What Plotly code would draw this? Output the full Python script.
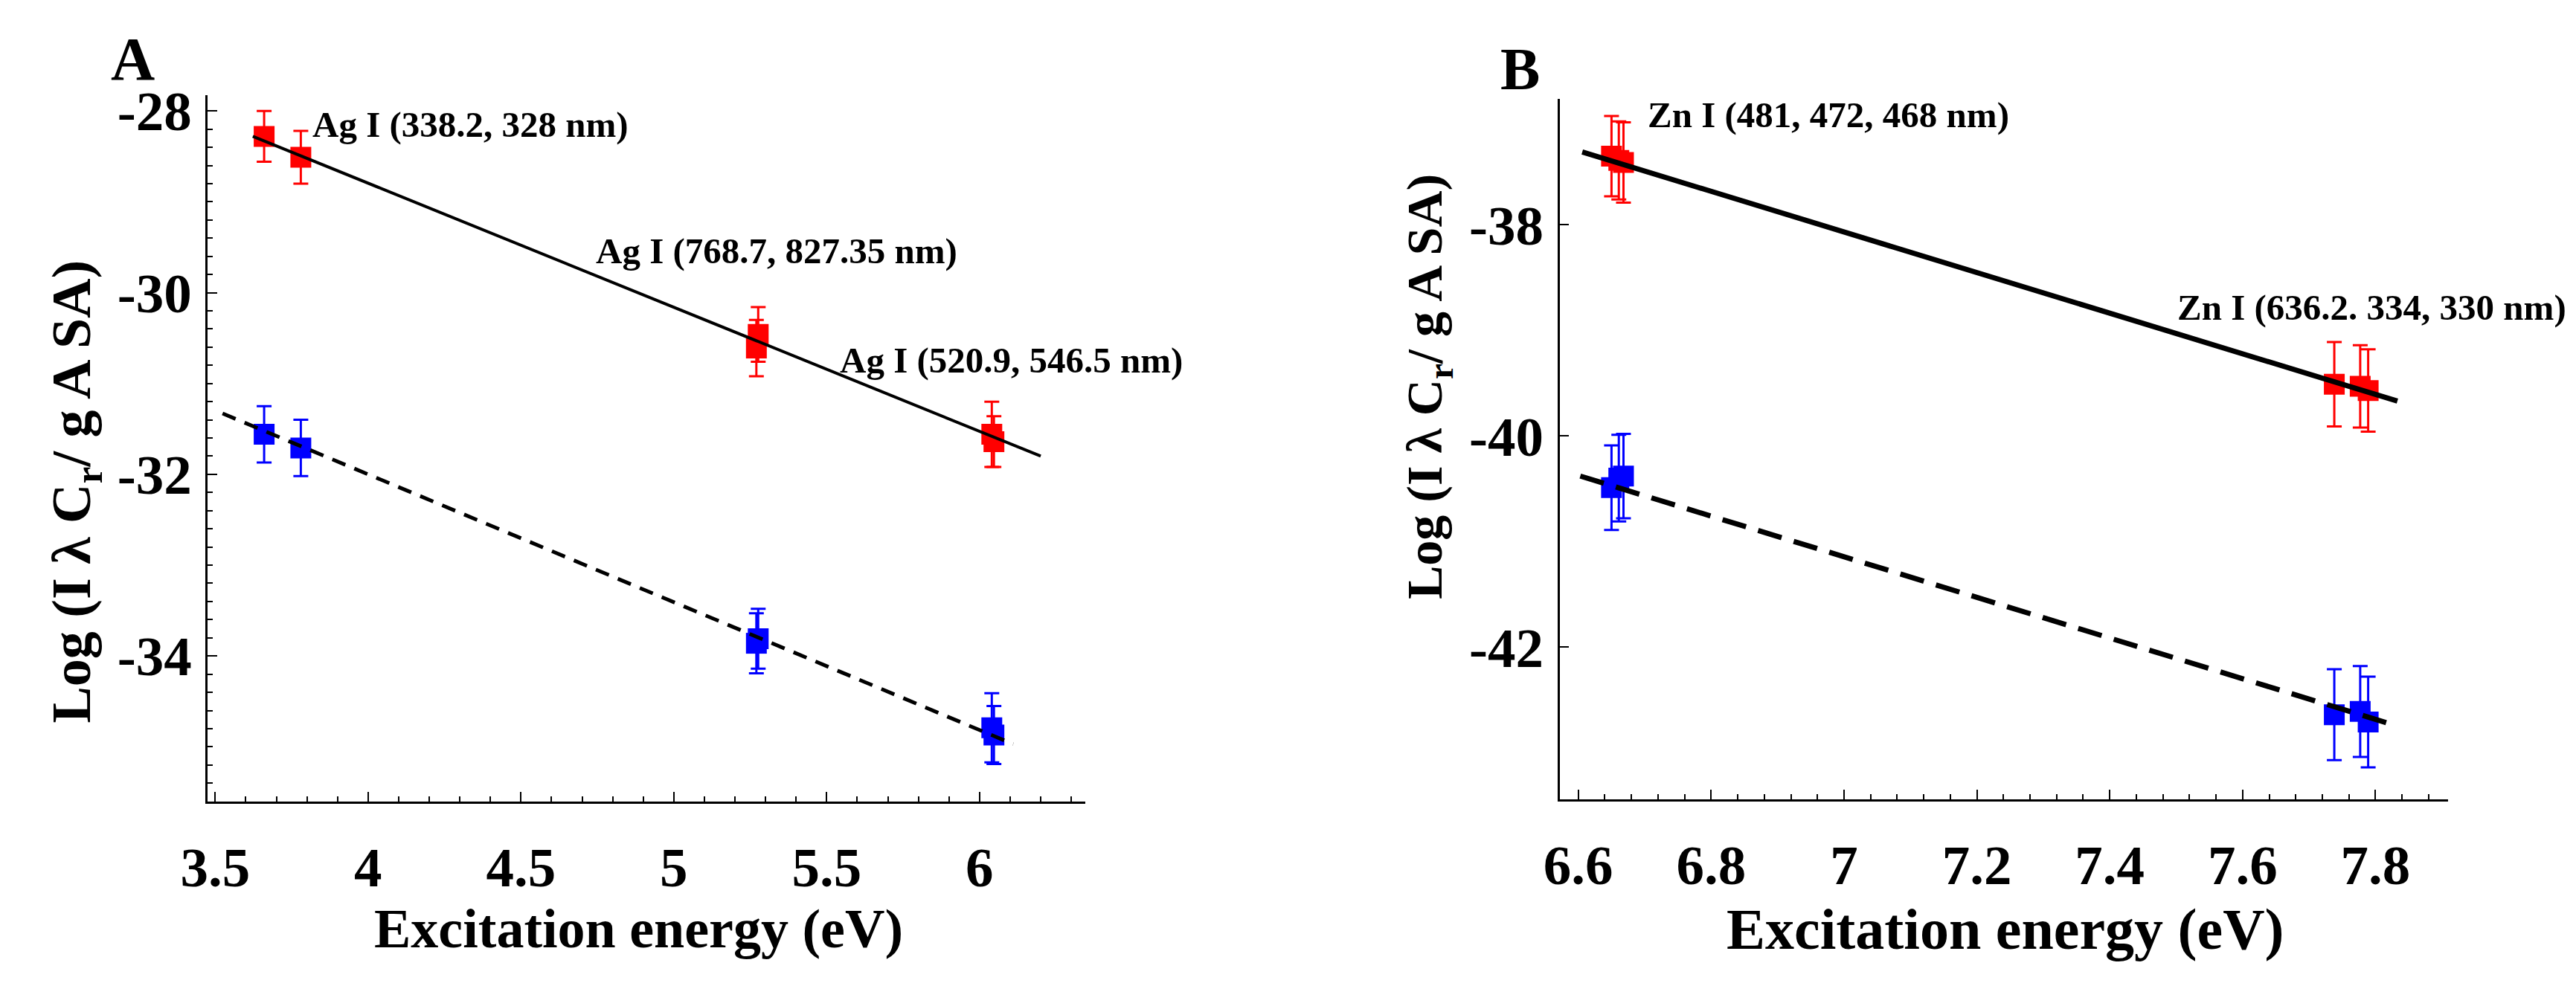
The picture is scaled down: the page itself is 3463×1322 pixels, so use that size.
import plotly.graph_objects as go

# ---------------- data ----------------
# Panel A : Ag I lines
ag_x = [3.66, 3.78, 5.276, 5.270, 6.040, 6.047]
ag_red_y = [-28.28, -28.51, -30.46, -30.61, -31.56, -31.64]
ag_red_err = [0.28, 0.29, 0.30, 0.31, 0.36, 0.28]
ag_blue_y = [-31.56, -31.71, -33.81, -33.86, -34.79, -34.87]
ag_blue_err = [0.31, 0.31, 0.33, 0.33, 0.38, 0.32]
ag_fit_red_x = [3.623, 6.20]
ag_fit_red_y = [-28.28, -31.80]
ag_fit_blue_x = [3.524, 6.11]
ag_fit_blue_y = [-31.33, -34.97]

# Panel B : Zn I lines
zn_x = [6.650, 6.661, 6.668, 7.738, 7.777, 7.789]
zn_red_y = [-37.35, -37.39, -37.41, -39.51, -39.53, -39.57]
zn_red_err = [0.38, 0.37, 0.38, 0.40, 0.39, 0.39]
zn_blue_y = [-40.49, -40.40, -40.38, -42.64, -42.61, -42.71]
zn_blue_err = [0.40, 0.41, 0.40, 0.43, 0.43, 0.43]
zn_fit_red_x = [6.606, 7.833]
zn_fit_red_y = [-37.31, -39.67]
zn_fit_blue_x = [6.603, 7.829]
zn_fit_blue_y = [-40.38, -42.74]

# ticks
a_xticks = [3.5, 4, 4.5, 5, 5.5, 6]
a_xtext = ["3.5", "4", "4.5", "5", "5.5", "6"]
a_yticks = [-28, -30, -32, -34]
a_ytext = ["-28", "-30", "-32", "-34"]
b_xticks = [6.6, 6.8, 7.0, 7.2, 7.4, 7.6, 7.8]
b_xtext = ["6.6", "6.8", "7", "7.2", "7.4", "7.6", "7.8"]
b_yticks = [-38, -40, -42]
b_ytext = ["-38", "-40", "-42"]

labels_a = ["Ag I (338.2, 328 nm)", "Ag I (768.7, 827.35 nm)", "Ag I (520.9, 546.5 nm)"]
labels_b = ["Zn I (481, 472, 468 nm)", "Zn I (636.2. 334, 330 nm)"]
ytitle = "Log (I λ C<sub>r</sub>/ g A SA)"
xtitle = "Excitation energy (eV)"

# ---------------- figure geometry ----------------
W, H = 3447, 1306
OFF = 8  # default body margin of the page


def px(X):
    return (X - OFF) / W


def py(Y):
    return 1 - (Y - OFF) / H


RED = "#FF0000"
BLUE = "#0000FF"
FONT = "Liberation Serif"

fig = go.Figure()


def pts(x, y, err, color, xa, ya):
    fig.add_trace(go.Scatter(
        x=x, y=y, mode="markers", xaxis=xa, yaxis=ya,
        marker=dict(symbol="square", size=28, color=color, line=dict(width=0)),
        error_y=dict(type="data", array=err, color=color, thickness=3, width=10),
        showlegend=False, hoverinfo="skip"))


def fit(x, y, width, dash, xa, ya):
    fig.add_trace(go.Scatter(
        x=x, y=y, mode="lines", xaxis=xa, yaxis=ya,
        line=dict(color="black", width=width, dash=dash),
        showlegend=False, hoverinfo="skip"))


pts(ag_x, ag_red_y, ag_red_err, RED, "x", "y")
pts(ag_x, ag_blue_y, ag_blue_err, BLUE, "x", "y")
fit(ag_fit_red_x, ag_fit_red_y, 4, "solid", "x", "y")
fit(ag_fit_blue_x, ag_fit_blue_y, 5, "19px,13px", "x", "y")

pts(zn_x, zn_red_y, zn_red_err, RED, "x2", "y2")
pts(zn_x, zn_blue_y, zn_blue_err, BLUE, "x2", "y2")
fit(zn_fit_red_x, zn_fit_red_y, 7, "solid", "x2", "y2")
fit(zn_fit_blue_x, zn_fit_blue_y, 7, "33px,17px", "x2", "y2")

tickfont = dict(family=FONT, size=75, color="black", weight="bold")


def xaxis(dom, rng, tv, tt, minor_dt, anchor):
    return dict(domain=dom, range=rng, anchor=anchor, showline=True, linewidth=2.5,
                linecolor="black", mirror=False, showgrid=False, zeroline=False,
                ticks="inside", ticklen=13, tickwidth=2, tickcolor="black",
                tickvals=tv, ticktext=tt, tickfont=tickfont, ticklabelstandoff=22,
                minor=dict(dtick=minor_dt, tick0=tv[0], ticks="inside", ticklen=7,
                           tickwidth=2, tickcolor="black", showgrid=False))


def yaxis(dom, rng, tv, tt, minor_dt, anchor):
    d = dict(domain=dom, range=rng, anchor=anchor, showline=True, linewidth=2.5,
             linecolor="black", mirror=False, showgrid=False, zeroline=False,
             ticks="inside", ticklen=13, tickwidth=2, tickcolor="black",
             tickvals=tv, ticktext=tt, tickfont=tickfont, ticklabelstandoff=4)
    if minor_dt:
        d["minor"] = dict(dtick=minor_dt, tick0=tv[0], ticks="inside", ticklen=7,
                          tickwidth=2, tickcolor="black", showgrid=False)
    return d


fig.update_layout(
    width=W, height=H, margin=dict(l=0, r=0, t=0, b=0),
    paper_bgcolor="white", plot_bgcolor="white", showlegend=False,
    xaxis=xaxis([px(245), px(1437)], [3.476, 6.345], a_xticks, a_xtext, 0.1, "y"),
    yaxis=yaxis([py(1074), py(110)], [-35.60, -27.83], a_yticks, a_ytext, 0.2, "x"),
    xaxis2=xaxis([px(2082), px(3289)], [6.572, 7.909], b_xticks, b_xtext, 0.04, "y2"),
    yaxis2=yaxis([py(1071), py(115)], [-43.44, -36.81], b_yticks, b_ytext, None, "x2"),
)


def note(text, X, Y, size, angle=0):
    fig.add_annotation(text=text, x=px(X), y=py(Y), xref="paper", yref="paper",
                       xanchor="center", yanchor="middle", showarrow=False,
                       textangle=angle,
                       font=dict(family=FONT, size=size, color="black", weight="bold"))


note("A", 143, 60, 82)
note("B", 2028, 74, 80)
note(labels_a[0], 602, 150, 49)
note(labels_a[1], 1018, 322, 49)
note(labels_a[2], 1337, 472, 49)
note(labels_b[0], 2447, 136, 49)
note(labels_b[1], 3186, 400, 49)
note(xtitle, 830, 1248, 74)
note(xtitle, 2687, 1248, 78)
note(ytitle, 65, 651, 74, -90)
note(ytitle, 1903, 508, 68, -90)

fig.write_html("out.html")
